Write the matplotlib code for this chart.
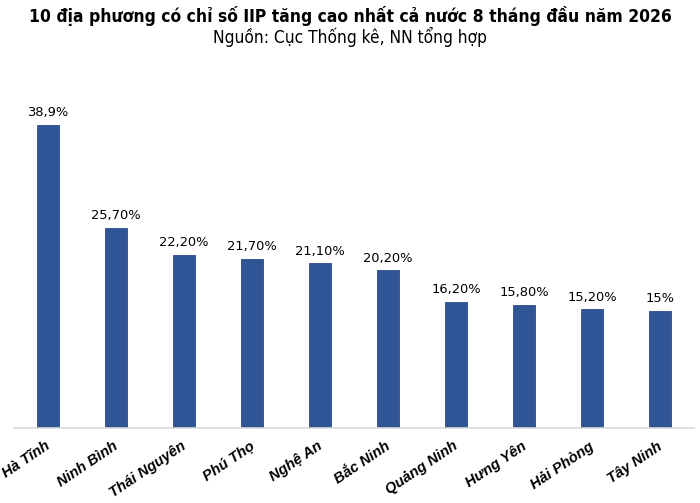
import matplotlib.pyplot as plt
from matplotlib.transforms import ScaledTranslation

# data
provinces = ["Hà Tĩnh", "Ninh Bình", "Thái Nguyên", "Phú Thọ", "Nghệ An",
             "Bắc Ninh", "Quảng Ninh", "Hưng Yên", "Hải Phòng", "Tây Ninh"]
iip_growth = [38.9, 25.7, 22.2, 21.7, 21.1, 20.2, 16.2, 15.8, 15.2, 15.0]
value_labels = ["38,9%", "25,70%", "22,20%", "21,70%", "21,10%",
                "20,20%", "16,20%", "15,80%", "15,20%", "15%"]

fig = plt.figure(figsize=(7, 5.03), dpi=100)
ax = fig.add_axes([0.02, 1 - 428 / 503, 0.9714, 333 / 503])

x = range(len(provinces))
bars = ax.bar(x, iip_growth, width=0.31, color="#2F5597", edgecolor="#2A4C88", linewidth=0.6)

for rect, lab in zip(bars, value_labels):
    ax.annotate(lab, (rect.get_x() + rect.get_width() / 2, rect.get_height()),
                xytext=(0, 4), textcoords="offset points",
                ha="center", va="bottom", fontsize=9.4, family="DejaVu Sans")

ax.set_xlim(-0.5, 9.5)
ax.set_ylim(0, 42.7)
ax.set_yticks([])
ax.set_xticks(list(x))
ax.set_xticklabels(provinces, rotation=34, ha="right", rotation_mode="anchor",
                   fontsize=10.6, fontweight="bold", fontstyle="italic",
                   family="Liberation Sans")
ax.tick_params(axis="x", length=0, pad=8)
shift = ScaledTranslation(-3 / 100, 0, fig.dpi_scale_trans)
for t in ax.get_xticklabels():
    t.set_transform(t.get_transform() + shift)
for s in ["top", "right", "left"]:
    ax.spines[s].set_visible(False)
ax.spines["bottom"].set_color("#d9d9d9")
ax.spines["bottom"].set_linewidth(1.2)

fig.text(0.5, 1 - 16 / 503, "10 địa phương có chỉ số IIP tăng cao nhất cả nước 8 tháng đầu năm 2026",
         ha="center", va="center", fontsize=12.5, fontweight="bold",
         family="DejaVu Sans", fontstretch="condensed")
fig.text(0.5, 1 - 37 / 503, "Nguồn: Cục Thống kê, NN tổng hợp",
         ha="center", va="center", fontsize=12.4, family="DejaVu Sans",
         fontstretch="condensed")

fig.savefig("out.png", dpi=100)
